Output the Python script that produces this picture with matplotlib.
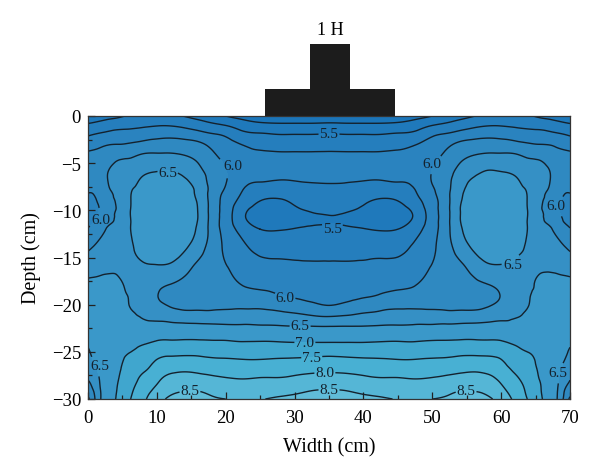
import numpy as np
import matplotlib
matplotlib.use("Agg")
import matplotlib.pyplot as plt
import matplotlib.tri as mtri
from matplotlib.patches import Rectangle
from matplotlib.ticker import MultipleLocator

# moisture readings, left half of the section (the right half mirrors it)
width_half = [0, 1.5, 3, 4.5, 6, 8, 10, 12, 14, 16, 18, 20, 22.5, 25, 27.5, 30, 32.5, 35]
depth = [0, -1, -2, -3, -4, -5, -6, -7, -8, -9, -10, -11, -12, -14, -16, -18, -19, -20,
         -21, -22, -23, -24, -25, -26, -27, -28, -29, -30]

z_00 = [5.35, 5.54, 5.73, 5.89, 6.03, 6.07, 6.08, 6.05, 6.01, 5.96, 5.93, 5.96, 6.01, 6.21, 6.4, 6.55, 6.58, 6.6, 6.6, 6.6, 6.57, 6.53, 6.47, 6.41, 6.34, 6.25, 6.12, 5.95]
z_01 = [5.4, 5.58, 5.78, 5.94, 6.06, 6.12, 6.13, 6.1, 6.06, 6.02, 5.99, 6.04, 6.13, 6.32, 6.44, 6.56, 6.6, 6.63, 6.65, 6.65, 6.65, 6.65, 6.62, 6.58, 6.52, 6.46, 6.42, 6.4]
z_03 = [5.43, 5.63, 5.82, 5.99, 6.11, 6.2, 6.26, 6.26, 6.22, 6.19, 6.17, 6.2, 6.28, 6.38, 6.46, 6.58, 6.62, 6.66, 6.7, 6.7, 6.72, 6.74, 6.76, 6.78, 6.8, 6.8, 6.8, 6.78]
z_04 = [5.47, 5.66, 5.85, 6.0, 6.17, 6.28, 6.34, 6.35, 6.32, 6.3, 6.29, 6.3, 6.33, 6.39, 6.46, 6.55, 6.65, 6.73, 6.78, 6.8, 6.83, 6.86, 6.9, 6.93, 6.97, 7.01, 7.05, 7.1]
z_06 = [5.52, 5.68, 5.86, 6.02, 6.19, 6.3, 6.38, 6.42, 6.47, 6.48, 6.48, 6.48, 6.48, 6.46, 6.43, 6.44, 6.46, 6.49, 6.6, 6.75, 6.85, 6.92, 6.99, 7.1, 7.19, 7.27, 7.36, 7.45]
z_08 = [5.56, 5.71, 5.9, 6.06, 6.25, 6.36, 6.47, 6.54, 6.57, 6.59, 6.6, 6.6, 6.6, 6.56, 6.47, 6.37, 6.34, 6.36, 6.46, 6.56, 6.72, 6.95, 7.1, 7.23, 7.44, 7.63, 7.78, 7.9]
z_10 = [5.58, 5.74, 5.92, 6.1, 6.26, 6.4, 6.51, 6.6, 6.66, 6.69, 6.7, 6.7, 6.7, 6.62, 6.48, 6.3, 6.26, 6.3, 6.41, 6.55, 6.8, 7.04, 7.28, 7.55, 7.75, 7.93, 8.1, 8.3]
z_12 = [5.56, 5.74, 5.93, 6.12, 6.26, 6.42, 6.52, 6.62, 6.68, 6.71, 6.72, 6.72, 6.72, 6.64, 6.46, 6.23, 6.17, 6.22, 6.35, 6.53, 6.8, 7.07, 7.37, 7.65, 7.92, 8.15, 8.37, 8.58]
z_14 = [5.49, 5.7, 5.9, 6.1, 6.23, 6.36, 6.46, 6.54, 6.6, 6.63, 6.65, 6.65, 6.63, 6.53, 6.34, 6.17, 6.12, 6.15, 6.33, 6.51, 6.8, 7.08, 7.38, 7.68, 7.97, 8.2, 8.46, 8.62]
z_16 = [5.42, 5.63, 5.85, 6.05, 6.16, 6.25, 6.34, 6.4, 6.44, 6.47, 6.49, 6.49, 6.46, 6.36, 6.2, 6.08, 6.05, 6.13, 6.33, 6.5, 6.78, 7.08, 7.37, 7.66, 7.93, 8.2, 8.47, 8.6]
z_18 = [5.35, 5.56, 5.78, 5.94, 6.03, 6.09, 6.14, 6.17, 6.17, 6.16, 6.16, 6.16, 6.16, 6.14, 6.1, 6.02, 6.01, 6.12, 6.33, 6.49, 6.78, 7.06, 7.34, 7.6, 7.87, 8.13, 8.38, 8.54]
z_20 = [5.25, 5.5, 5.72, 5.84, 5.92, 5.98, 6.01, 6.01, 5.96, 5.91, 5.89, 5.88, 5.9, 5.96, 6.01, 6.03, 6.03, 6.13, 6.35, 6.48, 6.78, 7.05, 7.32, 7.58, 7.82, 8.07, 8.3, 8.5]
z_22 = [5.17, 5.38, 5.58, 5.74, 5.81, 5.85, 5.84, 5.8, 5.74, 5.66, 5.56, 5.55, 5.65, 5.8, 5.92, 6.0, 6.05, 6.15, 6.36, 6.48, 6.76, 7.02, 7.3, 7.55, 7.8, 8.03, 8.27, 8.46]
z_25 = [5.12, 5.32, 5.54, 5.69, 5.78, 5.82, 5.8, 5.75, 5.63, 5.5, 5.42, 5.4, 5.5, 5.68, 5.83, 5.96, 6.05, 6.16, 6.35, 6.47, 6.74, 7.03, 7.3, 7.55, 7.82, 8.06, 8.28, 8.48]
z_27 = [5.1, 5.3, 5.51, 5.66, 5.77, 5.81, 5.8, 5.73, 5.6, 5.47, 5.38, 5.36, 5.48, 5.66, 5.82, 5.94, 6.01, 6.13, 6.31, 6.46, 6.72, 7.02, 7.3, 7.58, 7.82, 8.07, 8.32, 8.55]
z_30 = [5.1, 5.3, 5.51, 5.66, 5.77, 5.81, 5.79, 5.74, 5.62, 5.53, 5.46, 5.42, 5.51, 5.66, 5.8, 5.91, 5.98, 6.08, 6.27, 6.44, 6.7, 7.0, 7.31, 7.6, 7.87, 8.12, 8.37, 8.63]
z_32 = [5.1, 5.3, 5.51, 5.66, 5.77, 5.81, 5.79, 5.755, 5.66, 5.58, 5.52, 5.46, 5.54, 5.67, 5.79, 5.9, 5.96, 6.03, 6.22, 6.43, 6.7, 7.0, 7.33, 7.63, 7.92, 8.2, 8.47, 8.7]
z_35 = [5.1, 5.31, 5.52, 5.67, 5.77, 5.81, 5.8, 5.76, 5.68, 5.61, 5.55, 5.48, 5.56, 5.67, 5.79, 5.89, 5.95, 5.99, 6.19, 6.42, 6.7, 7.0, 7.35, 7.65, 7.94, 8.23, 8.5, 8.72]

levels = [4.5, 5.25, 5.5, 5.75, 6.0, 6.25, 6.5, 7.0, 7.5, 8.0, 8.5, 9.5]
band_colors = ["#1b75b9", "#1f79bb", "#257ebd", "#2a83bf", "#2f89c1", "#3590c5",
               "#3a98c9", "#40a6ce", "#48b0d3", "#55b6d6", "#60bcd9"]
plain_levels = [5.25, 5.75, 6.25]
labeled_levels = [5.5, 6.0, 6.5, 7.0, 7.5, 8.0, 8.5]
label_points = [(35, -1.9), (35.5, -11.9), (21, -5.3), (50, -5), (28.6, -19.2), (1.9, -11),
                (68, -9.5), (11.6, -6), (61.7, -15.7), (30.8, -22.2), (1.7, -26.4), (68.3, -27.2),
                (31.5, -24), (32.5, -25.6), (34.4, -27.2), (14.8, -29.1), (35, -29), (54.9, -29.1)]

plt.rcParams["font.family"] = ["Liberation Serif", "DejaVu Serif"]
plt.rcParams["font.size"] = 12

half = np.array([z_00, z_01, z_03, z_04, z_06, z_08, z_10, z_12, z_14, z_16, z_18, z_20,
                 z_22, z_25, z_27, z_30, z_32, z_35]).T
z = np.hstack([half, half[:, -2::-1]])
width = np.array(width_half + [70 - w for w in width_half[-2::-1]])

# smooth contours: refine the triangulated grid with matplotlib's own refiner
xx, yy = np.meshgrid(width, np.array(depth, dtype=float))
triang = mtri.Triangulation(xx.ravel(), yy.ravel())
fine_tri, fine_z = mtri.UniformTriRefiner(triang).refine_field(z.ravel(), subdiv=3)

fig = plt.figure(figsize=(6, 4.77), dpi=100)
ax = fig.add_axes([88 / 600, 1 - 400 / 477, 482 / 600, 283 / 477])

ax.tricontourf(fine_tri, fine_z, levels=levels, colors=band_colors, extend="neither")
ax.tricontour(fine_tri, fine_z, levels=plain_levels, colors="#14222e", linewidths=1.0)
lines = ax.tricontour(fine_tri, fine_z, levels=labeled_levels, colors="#14222e", linewidths=1.0)
labels = ax.clabel(lines, manual=label_points, fmt="%.1f", fontsize=11, inline=True, inline_spacing=1)
for t, point in zip(labels, label_points):
    t.set_rotation(0)
    t.set_position(point)
    t.set_color("#14222e")

# footing on top of the section
ax.add_patch(Rectangle((25.7, 0), 18.9, 2.9, color="#1c1c1c", clip_on=False, lw=0))
ax.add_patch(Rectangle((32.2, 0), 5.8, 7.6, color="#1c1c1c", clip_on=False, lw=0))
ax.text(35.2, 9.2, "1 H", ha="center", va="center", fontsize=13)

ax.set_xlim(0, 70)
ax.set_ylim(-30, 0)
ax.xaxis.set_major_locator(MultipleLocator(10))
ax.xaxis.set_minor_locator(MultipleLocator(5))
ax.yaxis.set_major_locator(MultipleLocator(5))
ax.yaxis.set_minor_locator(MultipleLocator(2.5))
ax.tick_params(which="major", direction="in", length=5, width=0.9, color="#222222", pad=5, labelsize=13.5)
ax.tick_params(axis="x", which="major", pad=7)
ax.tick_params(which="minor", direction="in", length=3, width=0.9, color="#222222")
ax.set_xlabel("Width (cm)", fontsize=14.5, labelpad=8)
ax.set_ylabel("Depth (cm)", fontsize=14.5, labelpad=8)
for side in ax.spines:
    ax.spines[side].set_linewidth(0.9)
    ax.spines[side].set_color("#333333")

fig.savefig("out.png", dpi=100)
